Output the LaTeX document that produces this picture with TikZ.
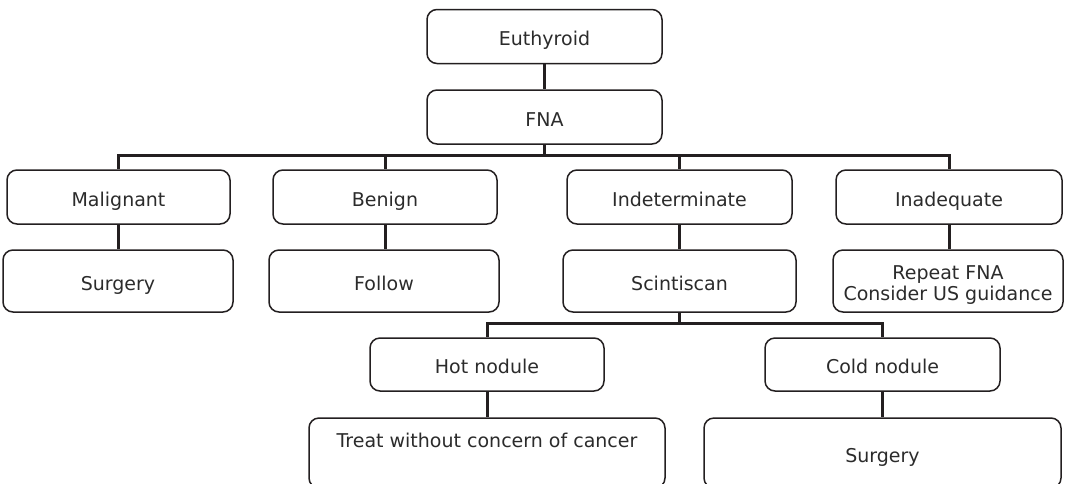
\documentclass[tikz,border=0pt]{standalone}
\usepackage{fontspec}
\setmainfont{DejaVu Sans}
\begin{document}
\begin{tikzpicture}[x=1pt,y=-1pt,
  box/.style={draw=linec, line width=1.5pt, rounded corners=10pt, text=textc,
    font=\fontsize{19}{21}\selectfont, align=center, inner sep=0pt,
    text height=20pt, text depth=2pt,
    minimum width=#1, minimum height=54pt},
  box/.default=230pt,
  tall/.style={minimum height=70pt},
  link/.style={draw=linec, line width=3pt}]
\definecolor{linec}{HTML}{231F20}
\definecolor{textc}{HTML}{2B2B2B}
\useasboundingbox (0,0) rectangle (1083,483);
\clip (0,0) rectangle (1083,483);

% top of the tree
\node[box=235pt] (eu)  at (544.5,36.5) {Euthyroid};
\node[box=235pt] (fna) at (544.5,117)  {FNA};

% FNA outcomes
\node[box=223pt] (mal) at (118.5,197) {Malignant};
\node[box=224pt] (ben) at (385,197)   {Benign};
\node[box=225pt] (ind) at (679.5,197) {Indeterminate};
\node[box=226pt] (ina) at (949,197)   {Inadequate};

% follow-up steps
\node[box=230pt, minimum height=62pt] (srg) at (118,281)   {Surgery};
\node[box=230pt, minimum height=62pt] (fol) at (384,281)   {Follow};
\node[box=233pt, minimum height=62pt] (sci) at (679.5,281) {Scintiscan};
\node[box=230pt, minimum height=62pt, text height=41pt] (rep) at (948,281)
  {Repeat FNA\\Consider US guidance};

% scintiscan results
\node[box=234pt, minimum height=53pt] (hot)  at (487,364.5) {Hot nodule};
\node[box=235pt, minimum height=53pt] (cold) at (882.5,364.5) {Cold nodule};
\node[box=356pt, tall, text height=49pt] (treat) at (487,453)
  {Treat without concern of cancer\\[8pt]\mbox{}};
\node[box=357pt, tall] (srg2)  at (882.5,453) {Surgery};

% connectors
\draw[link] (eu.south) -- (fna.north);
\foreach \c in {mal,ben,ind,ina}
  \draw[link] (fna.south) -- ++(0,11) -| (\c.north);
\draw[link] (mal.south) -- (mal.south |- srg.north);
\draw[link] (ben.south) -- (ben.south |- fol.north);
\draw[link] (ind.south) -- (ind.south |- sci.north);
\draw[link] (ina.south) -- (ina.south |- rep.north);
\foreach \c in {hot,cold}
  \draw[link] (sci.south) -- ++(0,11) -| (\c.north);
\draw[link] (hot.south) -- (hot.south |- treat.north);
\draw[link] (cold.south) -- (cold.south |- srg2.north);
\end{tikzpicture}
\end{document}
